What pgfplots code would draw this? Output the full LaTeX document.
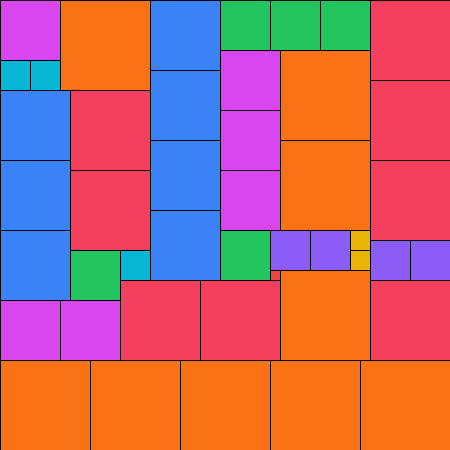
\documentclass[border=0pt]{standalone}
\usepackage{pgfplots}
\pgfplotsset{compat=1.18}
\definecolor{cmag}{HTML}{D946EF}
\definecolor{cora}{HTML}{F97316}
\definecolor{cblu}{HTML}{3B82F6}
\definecolor{cgrn}{HTML}{22C55E}
\definecolor{cros}{HTML}{F43F5E}
\definecolor{ccya}{HTML}{06B6D4}
\definecolor{cvio}{HTML}{8B5CF6}
\definecolor{cyel}{HTML}{EAB308}
\definecolor{cred}{HTML}{EF4444}
\newcommand\R[5]{\addplot[fill=#5,draw=black,line width=1pt] coordinates {(#1,#2) (#3,#2) (#3,#4) (#1,#4)} --cycle;}
\begin{document}
\begin{tikzpicture}
\begin{axis}[width=450pt,height=450pt,scale only axis,hide axis,
  xmin=0,xmax=450,ymin=0,ymax=450,y dir=reverse,clip=true]
\R{0}{0}{60}{60}{cmag}
\R{0}{60}{30}{90}{ccya}
\R{30}{60}{60}{90}{ccya}
\R{60}{0}{150}{90}{cora}
\R{150}{0}{220}{70}{cblu}
\R{150}{70}{220}{140}{cblu}
\R{150}{140}{220}{210}{cblu}
\R{150}{210}{220}{280}{cblu}
\R{220}{0}{270}{50}{cgrn}
\R{270}{0}{320}{50}{cgrn}
\R{320}{0}{370}{50}{cgrn}
\R{370}{0}{450}{80}{cros}
\R{370}{80}{450}{160}{cros}
\R{370}{160}{450}{240}{cros}
\R{370}{240}{410}{280}{cvio}
\R{410}{240}{450}{280}{cvio}
\R{370}{280}{450}{360}{cros}
\R{0}{90}{70}{160}{cblu}
\R{0}{160}{70}{230}{cblu}
\R{0}{230}{70}{300}{cblu}
\R{70}{90}{150}{170}{cros}
\R{70}{170}{150}{250}{cros}
\R{70}{250}{120}{300}{cgrn}
\R{120}{250}{150}{280}{ccya}
\R{0}{300}{60}{360}{cmag}
\R{60}{300}{120}{360}{cmag}
\R{120}{280}{200}{360}{cros}
\R{200}{280}{280}{360}{cros}
\R{220}{50}{280}{110}{cmag}
\R{220}{110}{280}{170}{cmag}
\R{220}{170}{280}{230}{cmag}
\R{280}{50}{370}{140}{cora}
\R{280}{140}{370}{230}{cora}
\R{220}{230}{270}{280}{cgrn}
\R{270}{230}{310}{270}{cvio}
\R{310}{230}{350}{270}{cvio}
\R{350}{230}{370}{250}{cyel}
\R{350}{250}{370}{270}{cyel}
\R{270}{270}{280}{280}{cred}
\R{280}{270}{370}{360}{cora}
\R{0}{360}{90}{450}{cora}
\R{90}{360}{180}{450}{cora}
\R{180}{360}{270}{450}{cora}
\R{270}{360}{360}{450}{cora}
\R{360}{360}{450}{450}{cora}
\end{axis}
\end{tikzpicture}
\end{document}
